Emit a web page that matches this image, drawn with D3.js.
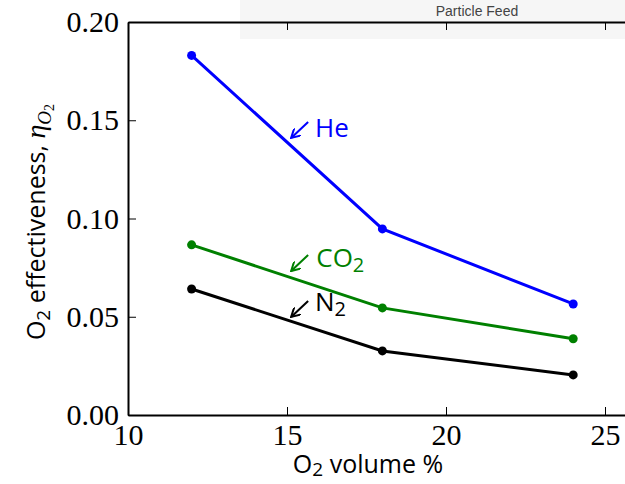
<!DOCTYPE html>
<html>
<head>
<meta charset="utf-8">
<script src="https://cdn.jsdelivr.net/npm/d3@7"></script>
<style>
  body { margin: 0; background: #fff; }
  svg { display: block; }
</style>
</head>
<body>
<div id="chart"></div>
<script>
// data
var o2Volume = [12, 18, 24];
var heValues = [0.183, 0.0947, 0.0565];
var co2Values = [0.0866, 0.0545, 0.0388];
var n2Values = [0.0641, 0.0326, 0.0204];
var xTicks = [10, 15, 20, 25];
var yTicks = [0.00, 0.05, 0.10, 0.15, 0.20];

var seriesNames = ["He", "CO2", "N2"];
var seriesColors = ["#0000ff", "#008000", "#000000"];
var seriesValues = [heValues, co2Values, n2Values];

// annotation arrows, in data units: tip of arrow and text anchor
var annotations = [
  {name: "He", tipX: 15.13, tipY: 0.141, textX: 15.88, textY: 0.1415},
  {name: "CO2", tipX: 15.13, tipY: 0.0733, textX: 15.92, textY: 0.0753},
  {name: "N2", tipX: 15.13, tipY: 0.0499, textX: 15.88, textY: 0.0529}
];

var W = 625, H = 484;
var margin = {top: 22, left: 128},
    height = 393;

var x = d3.scaleLinear().domain([10, 26]).range([margin.left, margin.left + 16 * 31.8]);
var y = d3.scaleLinear().domain([0, 0.2]).range([margin.top + height, margin.top]);

var svg = d3.select("#chart").append("svg")
    .attr("width", W)
    .attr("height", H);

var defs = svg.append("defs");
seriesColors.forEach(function(c, i) {
  defs.append("marker")
      .attr("id", "arrow" + i)
      .attr("viewBox", "0 0 10 10")
      .attr("refX", 9).attr("refY", 5)
      .attr("markerWidth", 10).attr("markerHeight", 10)
      .attr("markerUnits", "userSpaceOnUse")
      .attr("orient", "auto")
    .append("path")
      .attr("d", "M0,0 L9,5 L0,10")
      .attr("fill", "none")
      .attr("stroke", c)
      .attr("stroke-width", 2);
});

// the grey box overlapping the top of the figure
svg.append("rect")
    .attr("x", 240).attr("y", 0)
    .attr("width", W - 240).attr("height", 39)
    .attr("fill", "#f6f6f6");
svg.append("text")
    .attr("x", 477).attr("y", 16)
    .attr("text-anchor", "middle")
    .style("font-family", "Liberation Sans, Arial, sans-serif")
    .style("font-size", "14px")
    .attr("fill", "#444")
    .text("Particle Feed");

var serif = "'Liberation Serif', 'Times New Roman', serif";
var sans = "'Open Sans', 'DejaVu Sans', sans-serif";

// axes, ticks pointing inward
var xAxisBottom = svg.append("g")
    .attr("transform", "translate(0," + (margin.top + height) + ")")
    .call(d3.axisBottom(x).tickValues(xTicks).tickSizeInner(-8).tickSizeOuter(0).tickFormat(d3.format("d")));
var xAxisTop = svg.append("g")
    .attr("transform", "translate(0," + margin.top + ")")
    .call(d3.axisTop(x).tickValues(xTicks).tickSizeInner(-8).tickSizeOuter(0).tickFormat(""));
var yAxisLeft = svg.append("g")
    .attr("transform", "translate(" + margin.left + ",0)")
    .call(d3.axisLeft(y).tickValues(yTicks).tickSizeInner(-8).tickSizeOuter(0).tickFormat(d3.format(".2f")));

[xAxisBottom, xAxisTop, yAxisLeft].forEach(function(g) {
  g.select(".domain").attr("stroke", "#000").attr("stroke-width", 2);
  g.selectAll(".tick line").attr("stroke", "#000").attr("stroke-width", 1);
  g.selectAll(".tick text")
      .style("font-family", serif)
      .style("font-size", "30px")
      .attr("fill", "#000");
});
xAxisBottom.selectAll(".tick text").attr("dy", null).attr("y", 30);
yAxisLeft.selectAll(".tick text").attr("x", -9);
xAxisTop.selectAll(".tick").filter(function(d) { return d === 10; }).select("line").remove();

// lines and markers
var line = d3.line()
    .x(function(d, i) { return x(o2Volume[i]); })
    .y(function(d) { return y(d); });

seriesValues.forEach(function(vals, i) {
  svg.append("path")
      .datum(vals)
      .attr("d", line)
      .attr("fill", "none")
      .attr("stroke", seriesColors[i])
      .attr("stroke-width", 3);
  svg.selectAll(".dot" + i)
      .data(vals)
      .enter().append("circle")
      .attr("class", "dot" + i)
      .attr("cx", function(d, j) { return x(o2Volume[j]); })
      .attr("cy", function(d) { return y(d); })
      .attr("r", 4.5)
      .attr("fill", seriesColors[i]);
});

// annotations
annotations.forEach(function(a) {
  var i = seriesNames.indexOf(a.name);
  var tx = x(a.tipX), ty = y(a.tipY);
  svg.append("line")
      .attr("x1", tx + 17).attr("y1", ty - 16)
      .attr("x2", tx).attr("y2", ty)
      .attr("stroke", seriesColors[i])
      .attr("stroke-width", 2)
      .attr("marker-end", "url(#arrow" + i + ")");
  var t = svg.append("text")
      .attr("x", x(a.textX)).attr("y", y(a.textY))
      .style("font-family", sans)
      .style("font-size", "26px")
      .attr("fill", seriesColors[i]);
  var base = a.name.replace("2", "");
  t.append("tspan").text(base);
  if (a.name.indexOf("2") >= 0) {
    t.append("tspan").attr("dy", 5).style("font-size", "20px").text("2");
  }
});

// x axis label
var xl = svg.append("text")
    .attr("x", 368).attr("y", 473)
    .attr("text-anchor", "middle")
    .style("font-family", sans)
    .style("font-size", "25px")
    .attr("fill", "#000");
xl.append("tspan").text("O");
xl.append("tspan").attr("dy", 3).style("font-size", "19px").text("2");
xl.append("tspan").attr("dy", -3).text(" volume %");

// y axis label
var yl = svg.append("text")
    .attr("transform", "translate(45,222) rotate(-90)")
    .attr("text-anchor", "middle")
    .style("font-family", sans)
    .style("font-size", "25px")
    .attr("fill", "#000");
yl.append("tspan").text("O");
yl.append("tspan").attr("dy", 5).style("font-size", "19px").text("2");
yl.append("tspan").attr("dy", -5).text(" effectiveness, ");
yl.append("tspan").style("font-family", serif).style("font-style", "italic").style("font-size", "28px").text("\u03b7");
yl.append("tspan").attr("dy", 6).style("font-family", serif).style("font-style", "italic").style("font-size", "19px").text("O");
yl.append("tspan").style("font-family", serif).style("font-size", "14px").attr("dy", 3).text("2");
</script>
</body>
</html>
